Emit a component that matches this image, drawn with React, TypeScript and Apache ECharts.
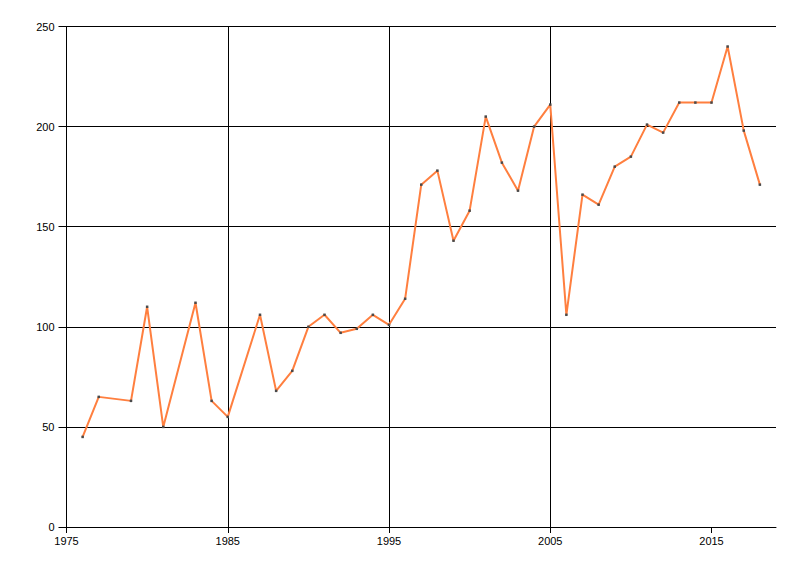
import React, { useEffect, useRef } from "react";
import * as echarts from "echarts";

const years = [1976, 1977, 1979, 1980, 1981, 1983, 1984, 1985, 1987, 1988, 1989, 1990, 1991, 1992, 1993, 1994, 1995, 1996, 1997, 1998, 1999, 2000, 2001, 2002, 2003, 2004, 2005, 2006, 2007, 2008, 2009, 2010, 2011, 2012, 2013, 2014, 2015, 2016, 2017, 2018];
const values = [45, 65, 63, 110, 50, 112, 63, 55, 106, 68, 78, 100, 106, 97, 99, 106, 101, 114, 171, 178, 143, 158, 205, 182, 168, 200, 211, 106, 166, 161, 180, 185, 201, 197, 212, 212, 212, 240, 198, 171];
const xTickLabels = [1975, 1985, 1995, 2005, 2015];
const yTickLabels = [0, 50, 100, 150, 200, 250];

const BASE_YEAR = 1975;
const X_END_YEAR = 2019;

export default function App() {
  const ref = useRef<HTMLDivElement>(null);
  useEffect(() => {
    if (!ref.current) return;
    const chart = echarts.init(ref.current, null, { renderer: "svg" });
    const data = years.map((y, i) => [y - BASE_YEAR, values[i]]);
    const tickVals = xTickLabels.map((y) => y - BASE_YEAR);
    const font = { fontFamily: "Liberation Sans, Arial, sans-serif", fontSize: 11, color: "#000" };
    chart.setOption({
      animation: false,
      backgroundColor: "#fff",
      grid: { left: 66.5, top: 26.5, right: 24, bottom: 49, containLabel: false },
      xAxis: {
        type: "value",
        min: 0,
        max: X_END_YEAR - BASE_YEAR,
        interval: 10,
        axisLine: { show: true, onZero: false, lineStyle: { color: "#000", width: 1 } },
        axisTick: { show: true, length: 6, lineStyle: { color: "#000" }, customValues: tickVals },
        axisLabel: {
          ...font,
          margin: 8,
          customValues: tickVals,
          formatter: (v: number) => String(v + BASE_YEAR),
        },
        splitLine: { show: true, showMaxLine: false, lineStyle: { color: "#000", width: 1 } },
      },
      yAxis: {
        type: "value",
        min: yTickLabels[0],
        max: yTickLabels[yTickLabels.length - 1],
        interval: 50,
        axisLine: { show: true, lineStyle: { color: "#000", width: 1 } },
        axisTick: { show: true, length: 8, lineStyle: { color: "#000" } },
        axisLabel: { ...font, margin: 12 },
        splitLine: { show: true, lineStyle: { color: "#000", width: 1 } },
      },
      series: [
        {
          type: "line",
          data,
          showSymbol: true,
          symbol: "rect",
          symbolSize: 2.5,
          itemStyle: { color: "#4a4a4a" },
          lineStyle: { color: "#FF7F3F", width: 2 },
          z: 3,
        },
      ],
    });
    return () => chart.dispose();
  }, []);
  return <div ref={ref} style={{ width: 800, height: 576, position: "absolute", left: 0, top: 0 }} />;
}
